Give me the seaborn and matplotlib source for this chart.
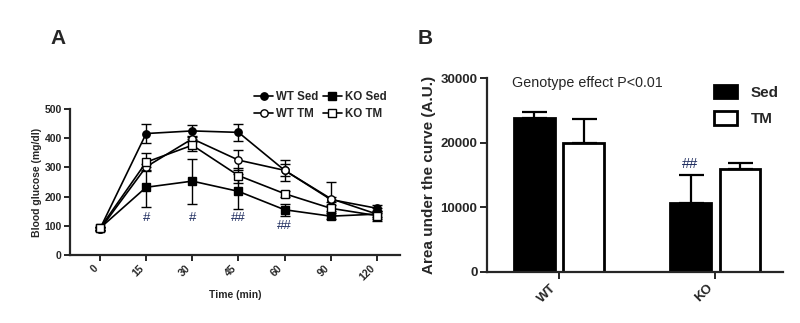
import numpy as np
import pandas as pd
import matplotlib
matplotlib.use("Agg")
import matplotlib.pyplot as plt
from matplotlib.patches import Rectangle
import seaborn as sns

# ---------------- data ----------------
times = ["0", "15", "30", "45", "60", "90", "120"]
wt_sed = [90, 416, 425, 420, 290, 190, 160]
wt_sed_err = [5, 31, 20, 28, 20, 10, 10]
wt_tm = [88, 302, 398, 325, 290, 193, 140]
wt_tm_err = [5, 10, 10, 33, 37, 56, 22]
ko_sed = [92, 232, 253, 218, 155, 133, 140]
ko_sed_err = [5, 68, 77, 60, 20, 10, 10]
ko_tm = [92, 318, 376, 272, 210, 160, 135]
ko_tm_err = [5, 30, 20, 25, 10, 10, 10]
hash_labels = ["", "#", "#", "##", "##", "", ""]
hash_y = [0, 126, 126, 128, 100, 0, 0]

genotypes = ["WT", "KO"]
treatments = ["Sed", "TM"]
auc_sed = [23800, 10600]
auc_sed_err = [1000, 4400]
auc_tm = [20000, 16000]
auc_tm_err = [3700, 870]

# ---------------- style ----------------
sns.set_theme(style="ticks")
plt.rcParams["font.family"] = ["Liberation Sans", "DejaVu Sans"]
plt.rcParams["axes.linewidth"] = 1.6
plt.rcParams["xtick.major.width"] = 1.4
plt.rcParams["ytick.major.width"] = 1.4

fig = plt.figure(figsize=(8, 3.23), dpi=100)

# ---------------- Panel A ----------------
axA = fig.add_axes([0.0875, 0.2105, 0.4125, 0.452])
xidx = np.arange(len(times))
series = [
    ("WT Sed", wt_sed, wt_sed_err, "o", "black", 5.3),
    ("WT TM", wt_tm, wt_tm_err, "o", "white", 5.3),
    ("KO Sed", ko_sed, ko_sed_err, "s", "black", 5.8),
    ("KO TM", ko_tm, ko_tm_err, "s", "white", 5.8),
]
for name, vals, errs, mk, fc, ms in series:
    axA.errorbar(xidx, vals, yerr=errs, fmt="none", ecolor="black",
                 elinewidth=1.0, capsize=3.5, capthick=1.0, zorder=2)
    sns.lineplot(x=xidx, y=vals, ax=axA, color="black", linewidth=1.2,
                 marker=mk, markersize=ms, markerfacecolor=fc,
                 markeredgecolor="black", markeredgewidth=1.0,
                 label=name, zorder=3)

for i, (lab, hy) in enumerate(zip(hash_labels, hash_y)):
    if lab:
        axA.text(xidx[i], hy, lab, ha="center", va="center", fontsize=9.5,
                 color="#1d2b5e")

axA.set_xlim(-0.65, 6.5)
axA.set_ylim(0, 500)
axA.set_yticks([0, 100, 200, 300, 400, 500])
axA.set_xticks(xidx)
axA.set_xticklabels(times, rotation=45, ha="right", fontsize=7.5, fontweight="bold")
for t in axA.get_yticklabels():
    t.set_fontsize(7.5)
    t.set_fontweight("bold")
axA.tick_params(axis="both", length=4, pad=2)
axA.set_xlabel("Time (min)", fontsize=7.5, fontweight="bold", labelpad=5)
axA.set_ylabel("Blood glucose (mg/dl)", fontsize=7.5, fontweight="bold", labelpad=2)
sns.despine(ax=axA)
if axA.legend_:
    axA.legend_.remove()
handles, labels = axA.get_legend_handles_labels()
fig.legend(handles, labels, loc="upper left", bbox_to_anchor=(0.305, 0.75),
           ncol=2, frameon=False, handlelength=1.6, handletextpad=0.3,
           columnspacing=0.4, labelspacing=0.45,
           prop={"size": 8.3, "weight": "bold"})

# ---------------- Panel B ----------------
axB = fig.add_axes([0.609, 0.158, 0.37, 0.6005])
df = pd.DataFrame({
    "genotype": genotypes * 2,
    "treatment": [treatments[0]] * 2 + [treatments[1]] * 2,
    "auc": auc_sed + auc_tm,
})
sns.barplot(data=df, x="genotype", y="auc", hue="treatment",
            order=genotypes, hue_order=treatments,
            palette={"Sed": "black", "TM": "white"},
            edgecolor="black", linewidth=2, width=0.63, gap=0.18,
            errorbar=None, ax=axB, legend=False)
errs = {"Sed": auc_sed_err, "TM": auc_tm_err}
vals = {"Sed": auc_sed, "TM": auc_tm}
for cont, tr in zip(axB.containers, treatments):
    centers = [p.get_x() + p.get_width() / 2 for p in cont.patches]
    axB.errorbar(centers, vals[tr], yerr=[np.zeros(len(errs[tr])), errs[tr]],
                 fmt="none", ecolor="black", elinewidth=1.6, capsize=9,
                 capthick=1.6, zorder=1)
    if tr == "Sed":
        axB.text(centers[1], vals[tr][1] + errs[tr][1] + 1700, "##",
                 ha="center", va="center", fontsize=10.5, color="#1d2b5e")

axB.set_xlim(-0.46, 1.436)
axB.set_ylim(0, 30000)
axB.set_yticks([0, 10000, 20000, 30000])
axB.set_xticks([0, 1])
axB.set_xticklabels(genotypes, rotation=45, ha="right", fontsize=9.5, fontweight="bold")
for t in axB.get_yticklabels():
    t.set_fontsize(9.5)
    t.set_fontweight("bold")
axB.tick_params(axis="both", length=5, pad=2)
axB.set_xlabel("")
axB.set_ylabel("Area under the curve (A.U.)", fontsize=11, fontweight="bold", labelpad=3)
sns.despine(ax=axB)
axB.text(-0.30, 30000 - 800, "Genotype effect P<0.01", ha="left", va="center",
         fontsize=10.3)
legB_handles = [Rectangle((0, 0), 1, 1, facecolor="black", edgecolor="black", linewidth=2),
                Rectangle((0, 0), 1, 1, facecolor="white", edgecolor="black", linewidth=2)]
fig.legend(legB_handles, treatments, loc="upper left", bbox_to_anchor=(0.875, 0.78),
           frameon=False, handlelength=1.5, handleheight=1.0, handletextpad=0.9,
           labelspacing=0.75, prop={"size": 11, "weight": "bold"})

# panel letters
fig.text(0.0625, 0.88, "A", fontsize=15, fontweight="bold", ha="left", va="center")
fig.text(0.5225, 0.88, "B", fontsize=15, fontweight="bold", ha="left", va="center")

fig.savefig("out.png", dpi=100)
